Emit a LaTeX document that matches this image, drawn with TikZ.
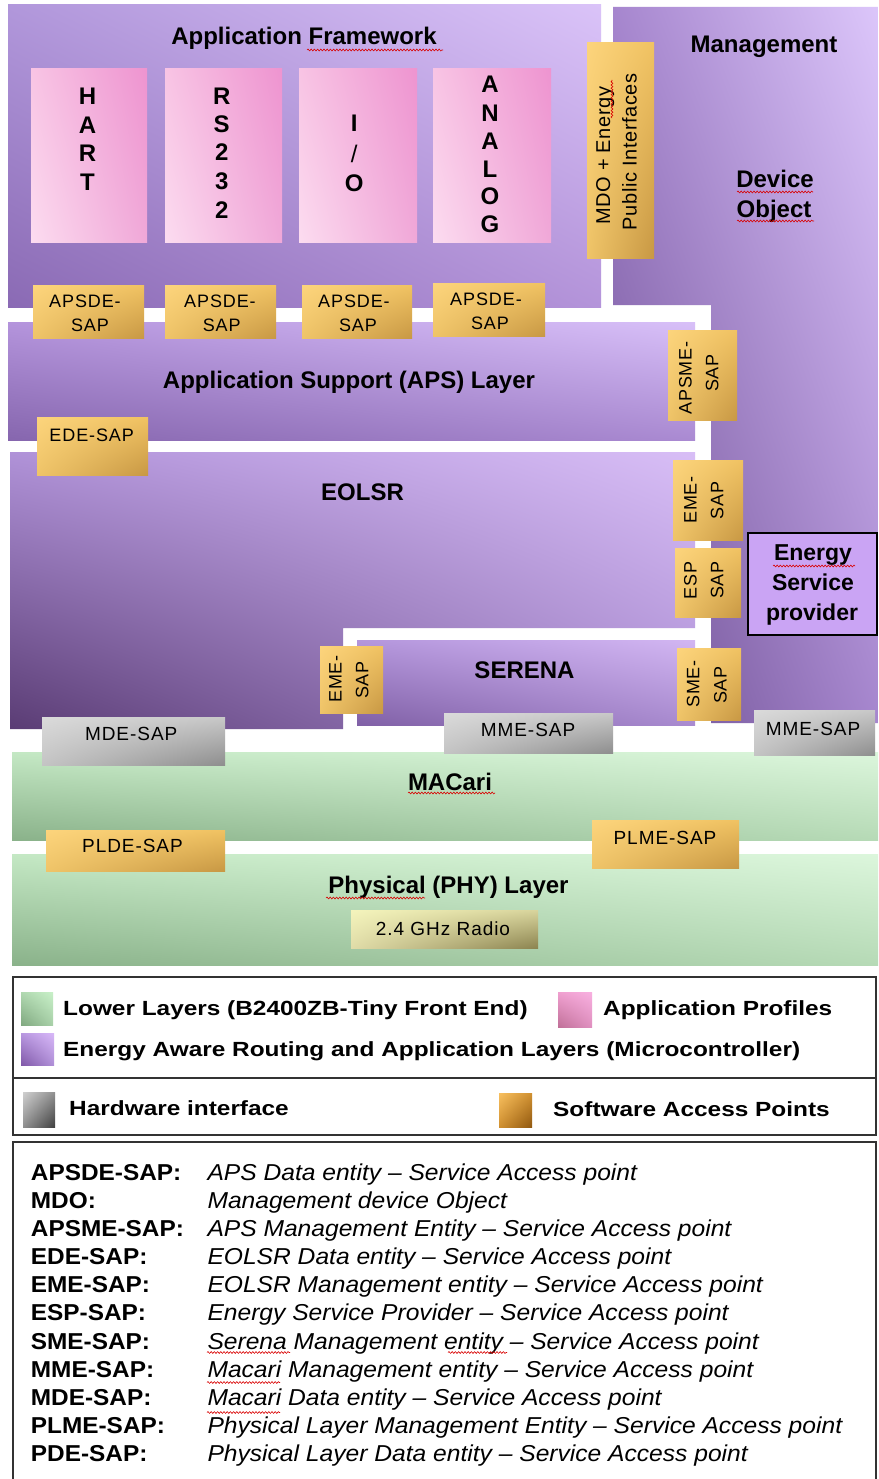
\documentclass[tikz,border=0pt]{standalone}
\usepackage{fontspec}
\setmainfont{Liberation Sans}
\newfontfamily\sapf[LetterSpace=5]{Liberation Sans}
\newfontfamily\mdof[LetterSpace=3]{Liberation Sans}
\usetikzlibrary{shadings,decorations.pathmorphing}

\newcommand\fTitle{\fontsize{24}{28}\selectfont\bfseries}
\newcommand\fEsp{\fontsize{23}{27}\selectfont\bfseries}
\newcommand\fSap{\sapf\fontsize{18}{21}\selectfont}
\newcommand\fSapB{\sapf\fontsize{19}{22}\selectfont}
\newcommand\fMdo{\mdof\fontsize{20}{24}\selectfont}
\newcommand\fLeg{\fontsize{20.5}{24}\selectfont\bfseries}
\newcommand\fLab{\fontsize{23}{27}\selectfont\bfseries}
\newcommand\fDesc{\fontsize{23}{27}\selectfont\itshape}
\newcommand\legx[1]{\scalebox{1.19}[1]{#1}}
\newcommand\labx[1]{\scalebox{1.06}[1]{#1}}
\newcommand\descx[1]{\scalebox{1.07}[1]{#1}}

% purple sets
\definecolor{afUL}{HTML}{B197DB}\definecolor{afUR}{HTML}{DAC3F8}\definecolor{afLL}{HTML}{8A6AB4}\definecolor{afLR}{HTML}{B494DA}
\definecolor{mgUL}{HTML}{A686CE}\definecolor{mgUR}{HTML}{DCC6FA}\definecolor{mgLL}{HTML}{6A4C8E}\definecolor{mgLR}{HTML}{A686CE}
\definecolor{apUL}{HTML}{B494DC}\definecolor{apUR}{HTML}{D8C0F8}\definecolor{apLL}{HTML}{8666AE}\definecolor{apLR}{HTML}{AA8AD2}
\definecolor{eoUL}{HTML}{B092D8}\definecolor{eoUR}{HTML}{D8BEF6}\definecolor{eoLL}{HTML}{5A3C74}\definecolor{eoLR}{HTML}{AC8ED4}
\definecolor{seUL}{HTML}{B496DC}\definecolor{seUR}{HTML}{D2B6F2}\definecolor{seLL}{HTML}{8060A6}\definecolor{seLR}{HTML}{A98BD0}
% pink
\definecolor{pkUL}{HTML}{F8C4E4}\definecolor{pkUR}{HTML}{EE94D0}\definecolor{pkLL}{HTML}{FCDCF0}\definecolor{pkLR}{HTML}{F0A8D8}
% gold
\definecolor{gdUL}{HTML}{FCD47C}\definecolor{gdUR}{HTML}{F0C262}\definecolor{gdLL}{HTML}{EFC468}\definecolor{gdLR}{HTML}{C89844}
% gray
\definecolor{gyUL}{HTML}{DADADA}\definecolor{gyUR}{HTML}{C8C8C8}\definecolor{gyLL}{HTML}{C4C4C4}\definecolor{gyLR}{HTML}{8E8E8E}
% green
\definecolor{grUL}{HTML}{C4E8C4}\definecolor{grUR}{HTML}{DCF6DC}\definecolor{grLL}{HTML}{8AB28A}\definecolor{grLR}{HTML}{B6DAB6}
% radio
\definecolor{raUL}{HTML}{F4F4BC}\definecolor{raUR}{HTML}{D8D49C}\definecolor{raLL}{HTML}{E0DCA8}\definecolor{raLR}{HTML}{8C8450}
% legend swatches
\definecolor{lgUL}{HTML}{B0D8B0}\definecolor{lgUR}{HTML}{C8F0C8}\definecolor{lgLL}{HTML}{80A880}\definecolor{lgLR}{HTML}{A8D0A8}
\definecolor{lpUL}{HTML}{F0A0D0}\definecolor{lpUR}{HTML}{F8B0E0}\definecolor{lpLL}{HTML}{C07098}\definecolor{lpLR}{HTML}{E090C0}
\definecolor{lvUL}{HTML}{B898E0}\definecolor{lvUR}{HTML}{D8B8F8}\definecolor{lvLL}{HTML}{8058A8}\definecolor{lvLR}{HTML}{B090D8}
\definecolor{lyUL}{HTML}{D0D0D0}\definecolor{lyUR}{HTML}{909090}\definecolor{lyLL}{HTML}{909090}\definecolor{lyLR}{HTML}{404040}
\definecolor{loUL}{HTML}{F8C060}\definecolor{loUR}{HTML}{D09030}\definecolor{loLL}{HTML}{D09030}\definecolor{loLR}{HTML}{905810}
\definecolor{espfill}{HTML}{CAA4F4}
\definecolor{framec}{HTML}{333333}

\begin{document}
\begin{tikzpicture}[x=1pt,y=-1pt,
  bil/.style={upper left=#1UL, upper right=#1UR, lower left=#1LL, lower right=#1LR},
  t/.style={inner sep=0pt, anchor=base},
  title/.style={t, font=\fTitle},
  esp/.style={t, font=\fEsp},
  sap/.style={t, font=\fSap},
  sapb/.style={t, font=\fSapB},
  rsap/.style={t, font=\fSap, rotate=90},
  mdo/.style={t, font=\fMdo, rotate=90},
  leg/.style={inner sep=0pt, anchor=base west, font=\fLeg},
  lab/.style={inner sep=0pt, anchor=base west, font=\fLab},
  desc/.style={inner sep=0pt, anchor=base west, font=\fDesc},
  frame/.style={draw=framec, line width=1.6pt},
  squig/.style={draw=red!85!black, line width=0.6pt, decorate,
     decoration={snake, amplitude=0.9pt, segment length=3.2pt}}
]
\useasboundingbox (0,0) rectangle (878,1479);
\fill[white] (0,0) rectangle (878,1479);

% ---------- purple layers ----------
\shade[bil=af] (8,5) rectangle (601,307);
\shade[bil=mg] (613,7) -- (878,7) -- (878,723) -- (711,723) -- (711,305) -- (613,305) -- cycle;
\shade[bil=ap] (8,322) rectangle (695,440);
\shade[bil=eo] (10,452) -- (695,452) -- (695,628) -- (343,628) -- (343,729) -- (10,729) -- cycle;
\shade[bil=se] (357,640) rectangle (695,725);

% ---------- green layers ----------
\shade[bil=gr] (12,752) rectangle (878,840);
\shade[bil=gr] (12,854) rectangle (878,965);

% ---------- pink application profiles ----------
\shade[bil=pk] (31,69) rectangle (147,243);
\shade[bil=pk] (165,69) rectangle (282,243);
\shade[bil=pk] (299,69) rectangle (417,243);
\shade[bil=pk] (433,69) rectangle (551,243);

% ---------- gold SAP boxes ----------
\shade[bil=gd] (33,285) rectangle (144,338);
\shade[bil=gd] (165,285) rectangle (276,338);
\shade[bil=gd] (302,285) rectangle (412,338);
\shade[bil=gd] (433,283) rectangle (545,336);
\shade[bil=gd] (587,43) rectangle (654,258);
\shade[bil=gd] (668,330) rectangle (737,420);
\shade[bil=gd] (37,417) rectangle (148,475);
\shade[bil=gd] (673,460) rectangle (743,540);
\shade[bil=gd] (675,548) rectangle (741,617);
\shade[bil=gd] (677,648) rectangle (741,720);
\shade[bil=gd] (320,646) rectangle (383,713);
\shade[bil=gd] (46,830) rectangle (225,871);
\shade[bil=gd] (592,820) rectangle (739,868);

% ---------- gray hardware boxes ----------
\shade[bil=gy] (42,717) rectangle (225,765);
\shade[bil=gy] (444,713) rectangle (613,753);
\shade[bil=gy] (754,710) rectangle (875,755);

% ---------- radio ----------
\shade[bil=ra] (351,910) rectangle (538,948);

% ---------- energy service provider ----------
\filldraw[fill=espfill, draw=black, line width=1.3pt] (748,533) rectangle (877,635);

% ---------- titles ----------
\node[title] (afT) at (304,45) {Application Framework};
\node[title] (mgT) at (764,53) {Management};
\node[title] (devT) at (775,188) {Device};
\node[title] (objT) at (774,218) {Object};
\node[title] (apsT) at (349,388) {Application Support (APS) Layer};
\node[title] (eoT) at (362.5,500) {EOLSR};
\node[title] (seT) at (524.5,678) {SERENA};
\node[title] (macT) at (450,790) {MACari};
\node[title] (phyT) at (448.5,893.3) {Physical (PHY) Layer};
\node[esp] (esp1) at (813,560) {Energy};
\node[esp] (esp2) at (813,590) {Service};
\node[esp] (esp3) at (812,620) {provider};

% ---------- profile letters ----------
\foreach \l/\yy [count=\i] in {H/105, A/134, R/162, T/191}
  \node[title] (hart\i) at (87.5,\yy) {\l};
\foreach \l/\yy [count=\i] in {R/105, S/133, 2/161, 3/190, 2/219}
  \node[title] (rs\i) at (221.7,\yy) {\l};
\node[title] (io1) at (354.3,132) {I};
\node[title, font=\fontsize{24}{28}\selectfont] (io2) at (354.3,163) {/};
\node[title] (io3) at (354.3,192) {O};
\foreach \l/\yy [count=\i] in {A/93, N/122, A/150, L/178, O/205, G/233}
  \node[title] (an\i) at (490,\yy) {\l};

% ---------- APSDE SAP labels ----------
\node[sap] (a1a) at (85,307) {APSDE-};  \node[sap] (a1b) at (90,331) {SAP};
\node[sap] (a2a) at (220,307) {APSDE-}; \node[sap] (a2b) at (221.7,331) {SAP};
\node[sap] (a3a) at (354,307) {APSDE-}; \node[sap] (a3b) at (358,331) {SAP};
\node[sap] (a4a) at (486,305) {APSDE-}; \node[sap] (a4b) at (490,329) {SAP};
\node[sap] (ede) at (91.7,441.7) {EDE-SAP};

% ---------- rotated labels ----------
\node[mdo] (mdo1) at (610,155.8) {MDO + Energy};
\node[mdo] (mdo2) at (636.7,151.7) {Public Interfaces};
\node[rsap] (apsme1) at (691.7,378) {APSME-};
\node[rsap] (apsme2) at (718.3,373) {SAP};
\node[rsap] (emer1) at (696.7,500) {EME-};
\node[rsap] (emer2) at (723.3,500.7) {SAP};
\node[rsap] (espa) at (696.7,580.7) {ESP};
\node[rsap] (espb) at (723.3,580) {SAP};
\node[rsap] (sme1) at (699.3,684) {SME-};
\node[rsap] (sme2) at (726.7,685) {SAP};
\node[rsap] (emel1) at (341.7,679) {EME-};
\node[rsap] (emel2) at (368.3,680) {SAP};

% ---------- lower SAP labels ----------
\node[sapb] (mde) at (131.2,740) {MDE-SAP};
\node[sapb] (mmec) at (528,736.7) {MME-SAP};
\node[sapb] (mmer) at (813,735) {MME-SAP};
\node[sapb] (plde) at (132.5,852.7) {PLDE-SAP};
\node[sapb] (plme) at (665,844) {PLME-SAP};
\node[sapb] (radio) at (443,935) {2.4 GHz Radio};

% ---------- spell-check squiggles ----------
\draw[squig] (307,50) -- (443,50);
\draw[squig] (612,118) -- (612,80);
\draw[squig] (737,192) -- (813,192);
\draw[squig] (737,221) -- (814,221);
\draw[squig] (773,566) -- (855,566);
\draw[squig] (408,793) -- (495,793);
\draw[squig] (326,898) -- (425,898);

% ---------- legend 1 ----------
\draw[frame] (13,977) rectangle (876,1135);
\draw[frame] (13,1078) -- (876,1078);
\shade[bil=lg] (21,992) rectangle (53,1025);
\shade[bil=lp] (558,992) rectangle (592,1027);
\shade[bil=lv] (21,1033) rectangle (54,1065);
\shade[bil=ly] (23,1092) rectangle (55,1127);
\shade[bil=lo] (499,1093) rectangle (532,1127);
\node[leg] (lg1) at (63,1015) {\legx{Lower Layers (B2400ZB-Tiny Front End)}};
\node[leg] (lg2) at (603,1015) {\legx{Application Profiles}};
\node[leg] (lg3) at (63,1056.7) {\legx{Energy Aware Routing and Application Layers (Microcontroller)}};
\node[leg] (lg4) at (69,1115) {\legx{Hardware interface}};
\node[leg] (lg5) at (553,1116.7) {\legx{Software Access Points}};

% ---------- legend 2 ----------
\draw[frame] (13,1482) -- (13,1142) -- (876,1142) -- (876,1482);
\foreach \lab/\dsc [count=\i] in {
  APSDE-SAP:/APS Data entity -- Service Access point,
  MDO:/Management device Object,
  APSME-SAP:/APS Management Entity -- Service Access point,
  EDE-SAP:/EOLSR Data entity -- Service Access point,
  EME-SAP:/EOLSR Management entity -- Service Access point,
  ESP-SAP:/Energy Service Provider -- Service Access point,
  SME-SAP:/Serena Management entity -- Service Access point,
  MME-SAP:/Macari Management entity -- Service Access point,
  MDE-SAP:/Macari Data entity -- Service Access point,
  PLME-SAP:/Physical Layer Management Entity -- Service Access point,
  PDE-SAP:/Physical Layer Data entity -- Service Access point}
{
  \node[lab] (lab\i) at (30.7,{1180+28.17*(\i-1)}) {\labx{\lab}};
  \node[desc] (dsc\i) at (207.3,{1180+28.17*(\i-1)}) {\descx{\dsc}};
}
\draw[squig] (207,1352.5) -- (290,1352.5);
\draw[squig] (448,1352.5) -- (507,1352.5);
\draw[squig] (207,1382.5) -- (280,1382.5);
\draw[squig] (207,1412.5) -- (280,1412.5);
\end{tikzpicture}
\end{document}
